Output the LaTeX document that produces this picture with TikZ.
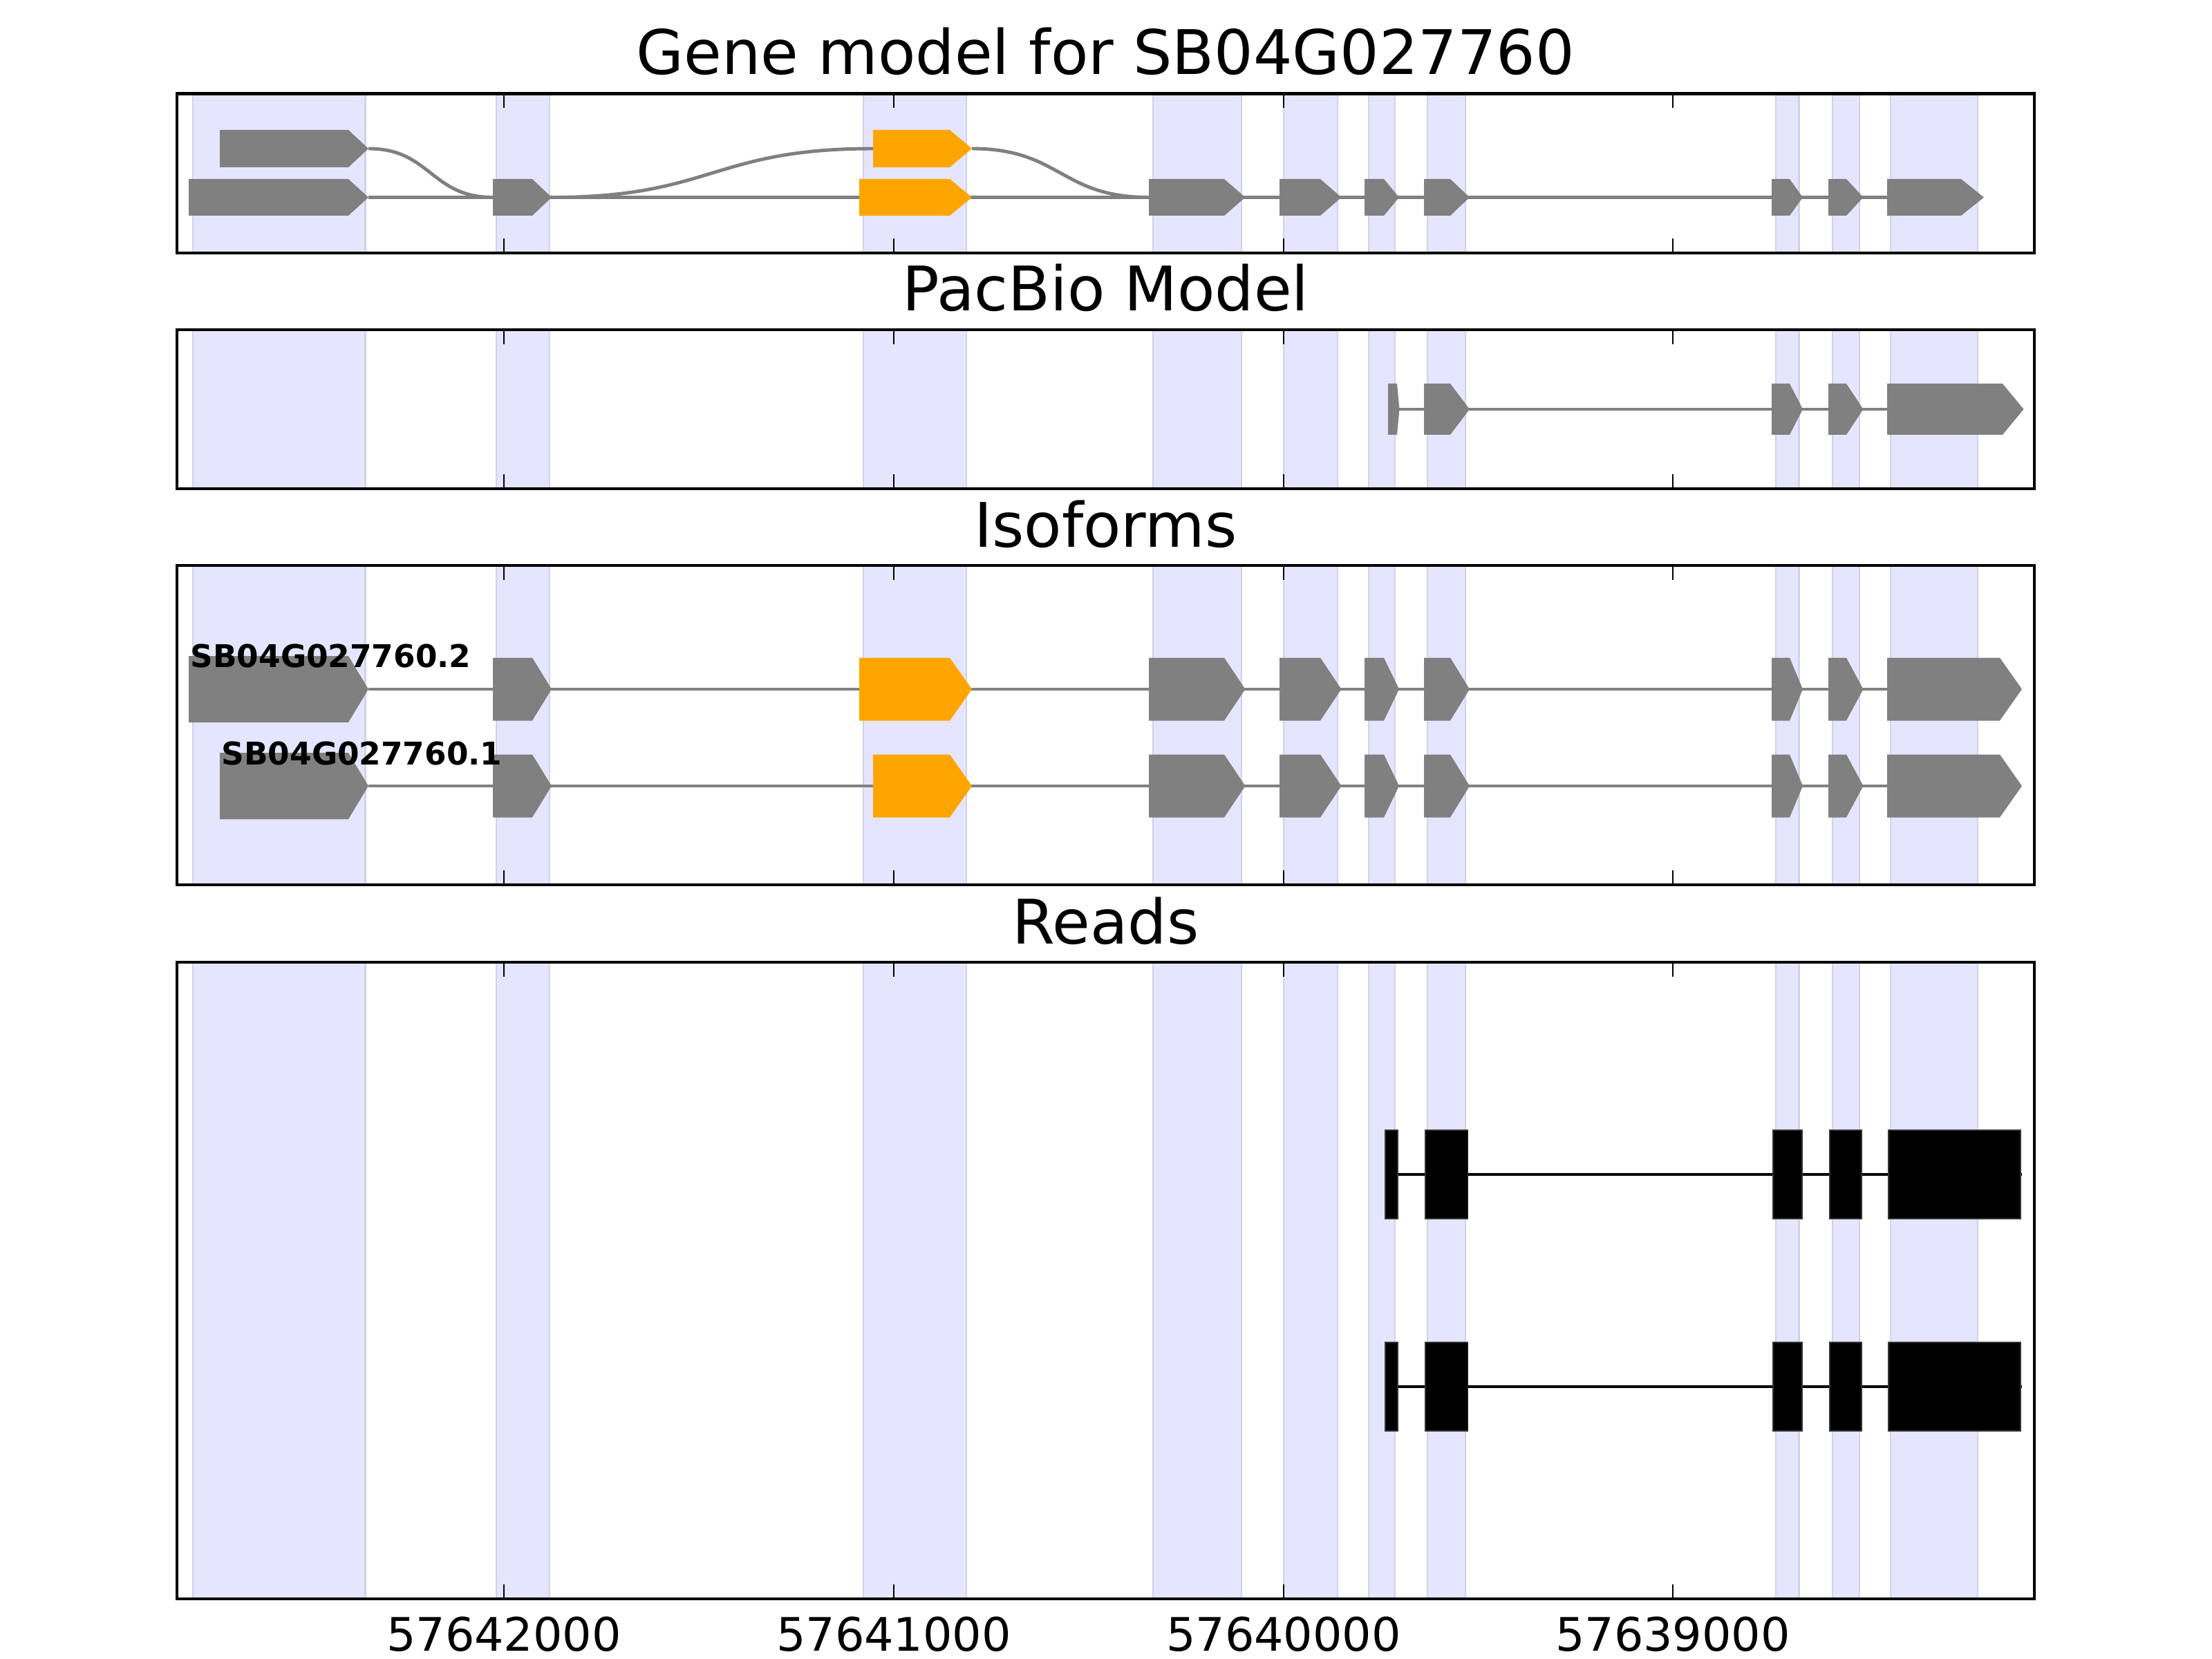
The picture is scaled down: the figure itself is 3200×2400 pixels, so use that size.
\documentclass[tikz,border=0pt]{standalone}
\usepackage{fontspec}
\setmainfont{DejaVu Sans}
\usepackage{tikz}
\usetikzlibrary{calc}

\definecolor{exongrau}{RGB}{128,128,128}
\definecolor{exonorange}{RGB}{255,165,0}
\definecolor{bandblau}{RGB}{229,229,255}
\definecolor{bandrand}{RGB}{210,210,230}

% exon als pfeil: farbe, start, ende rechteck, spitze, mitte y, halbe hoehe
\newcommand{\exon}[6]{%
\fill[#1] (#2,#5-#6) -- (#3,#5-#6) -- (#4,#5) -- (#3,#5+#6) -- (#2,#5+#6) -- cycle;}

\tikzset{
  rahmen/.style={line width=1.3pt},
  intron/.style={draw=exongrau, line width=1.4pt},
  band/.style={fill=bandblau, draw=bandrand, line width=0.8pt},
  strich/.style={line width=0.8pt},
  titel/.style={anchor=base, inner sep=0pt, font=\fontsize{25.3}{30}\selectfont},
  zahl/.style={anchor=base, inner sep=0pt, font=\fontsize{19}{23}\selectfont},
  isoname/.style={anchor=base west, inner sep=0pt, font=\bfseries\fontsize{12.9}{15}\selectfont},
  read/.style={fill=black, draw=black!80, line width=0.3pt}
}

\begin{document}
\begin{tikzpicture}[x=0.1mm, y=-0.1mm] % 1 einheit = 1 pixel
\useasboundingbox (0,0) rectangle (3200,2400);

%BAENDER IN ALLEN FELDERN
\foreach \oben/\unten in {135.5/366,477/707,818/1280,1392/2313}{
  \foreach \links/\rechts in {279/528.5,718/795,1249/1398,1668/1796,1857/1935,1980/2018,2065/2120,2569/2602.5,2651/2690,2735/2861}{
    \draw[band] (\links,\oben) rectangle (\rechts,\unten);
  }
}




%FELD NR. 0 (von oben): GENMODELL
\node[titel] (titel0) at ($(1599.5,108)$) {Gene model for SB04G027760};

%ZEILE NR. 0 (untere zeile)
\draw[intron] (533,285.5) -- (2730,285.5);
\exon{exongrau}{273}{504}{533}{285.5}{26.5}
\exon{exongrau}{713}{770}{798}{285.5}{26.5}
\exon{exonorange}{1243}{1374}{1406}{285.5}{26.5}
\exon{exongrau}{1662}{1771}{1801.5}{285.5}{26.5}
\exon{exongrau}{1851}{1910}{1940.5}{285.5}{26.5}
\exon{exongrau}{1974}{2002}{2024}{285.5}{26.5}
\exon{exongrau}{2060}{2098}{2126}{285.5}{26.5}
\exon{exongrau}{2563}{2589}{2608}{285.5}{26.5}
\exon{exongrau}{2645}{2671}{2695.5}{285.5}{26.5}
\exon{exongrau}{2730}{2837}{2870}{285.5}{26.5}

%ZEILE NR. 1 (obere zeile)
\draw[intron] (533,215) .. controls (623,215) and (623,285.5) .. (713,285.5);
\draw[intron] (798,285.5) .. controls (1030.5,285.5) and (1030.5,215) .. (1263,215);
\draw[intron] (1406,215) .. controls (1534,215) and (1534,285.5) .. (1662,285.5);
\exon{exongrau}{318}{504}{533}{215}{27}
\exon{exonorange}{1263}{1374}{1406}{215}{27}




%FELD NR. 1 (von oben): PACBIO
\node[titel] (titel1) at ($(1599.5,450)$) {PacBio Model};

\draw[intron] (2024,592) -- (2730,592);
\exon{exongrau}{2008}{2021}{2024.5}{592}{37}
\exon{exongrau}{2060}{2098}{2126}{592}{37}
\exon{exongrau}{2563}{2589}{2608}{592}{37}
\exon{exongrau}{2645}{2671}{2695.5}{592}{37}
\exon{exongrau}{2730}{2897}{2927.5}{592}{37}




%FELD NR. 2 (von oben): ISOFORMEN
\node[titel] (titel2) at ($(1599.5,791)$) {Isoforms};

%ZEILE NR. 0: SB04G027760.2
\draw[intron] (533,997) -- (2730,997);
\exon{exongrau}{273}{504}{533}{997}{48}
\exon{exongrau}{713}{770}{798}{997}{45.5}
\exon{exonorange}{1243}{1374}{1406}{997}{45.5}
\exon{exongrau}{1662}{1771}{1801.5}{997}{45.5}
\exon{exongrau}{1851}{1910}{1940.5}{997}{45.5}
\exon{exongrau}{1974}{2002}{2024}{997}{45.5}
\exon{exongrau}{2060}{2098}{2126}{997}{45.5}
\exon{exongrau}{2563}{2589}{2608}{997}{45.5}
\exon{exongrau}{2645}{2671}{2695.5}{997}{45.5}
\exon{exongrau}{2730}{2893}{2925}{997}{45.5}
\node[isoname] (iso2) at ($(275,965)$) {SB04G027760.2};

%ZEILE NR. 1: SB04G027760.1
\draw[intron] (533,1137) -- (2730,1137);
\exon{exongrau}{318}{504}{533}{1137}{48}
\exon{exongrau}{713}{770}{798}{1137}{45.5}
\exon{exonorange}{1263}{1374}{1406}{1137}{45.5}
\exon{exongrau}{1662}{1771}{1801.5}{1137}{45.5}
\exon{exongrau}{1851}{1910}{1940.5}{1137}{45.5}
\exon{exongrau}{1974}{2002}{2024}{1137}{45.5}
\exon{exongrau}{2060}{2098}{2126}{1137}{45.5}
\exon{exongrau}{2563}{2589}{2608}{1137}{45.5}
\exon{exongrau}{2645}{2671}{2695.5}{1137}{45.5}
\exon{exongrau}{2730}{2893}{2925}{1137}{45.5}
\node[isoname] (iso1) at ($(320,1106)$) {SB04G027760.1};




%FELD NR. 3 (von oben): READS
\node[titel] (titel3) at ($(1599.5,1365)$) {Reads};

%ZEILE NR. 0
\draw[line width=1.4pt] (2004,1699) -- (2925,1699);
\filldraw[read] (2004,1635) rectangle (2022,1763);
\filldraw[read] (2062,1635) rectangle (2123.5,1763);
\filldraw[read] (2565,1635) rectangle (2607,1763);
\filldraw[read] (2647,1635) rectangle (2693,1763);
\filldraw[read] (2732,1635) rectangle (2923,1763);

%ZEILE NR. 1
\draw[line width=1.4pt] (2004,2006) -- (2925,2006);
\filldraw[read] (2004,1942) rectangle (2022,2070);
\filldraw[read] (2062,1942) rectangle (2123.5,2070);
\filldraw[read] (2565,1942) rectangle (2607,2070);
\filldraw[read] (2647,1942) rectangle (2693,2070);
\filldraw[read] (2732,1942) rectangle (2923,2070);




%RAHMEN UND STRICHE
\foreach \oben/\unten in {135.5/366,477/707,818/1280,1392/2313}{
  \draw[rahmen] (256,\oben) rectangle (2943,\unten);
  \foreach \x in {729,1293,1857,2420}{
    \draw[strich] (\x,\oben) -- (\x,\oben+21);
    \draw[strich] (\x,\unten) -- (\x,\unten-21);
  }
}

%ACHSENBESCHRIFTUNG
\node[zahl] (zahl0) at ($(729,2388)$) {57642000};
\node[zahl] (zahl1) at ($(1293,2388)$) {57641000};
\node[zahl] (zahl2) at ($(1857,2388)$) {57640000};
\node[zahl] (zahl3) at ($(2420,2388)$) {57639000};

\end{tikzpicture}
\end{document}
